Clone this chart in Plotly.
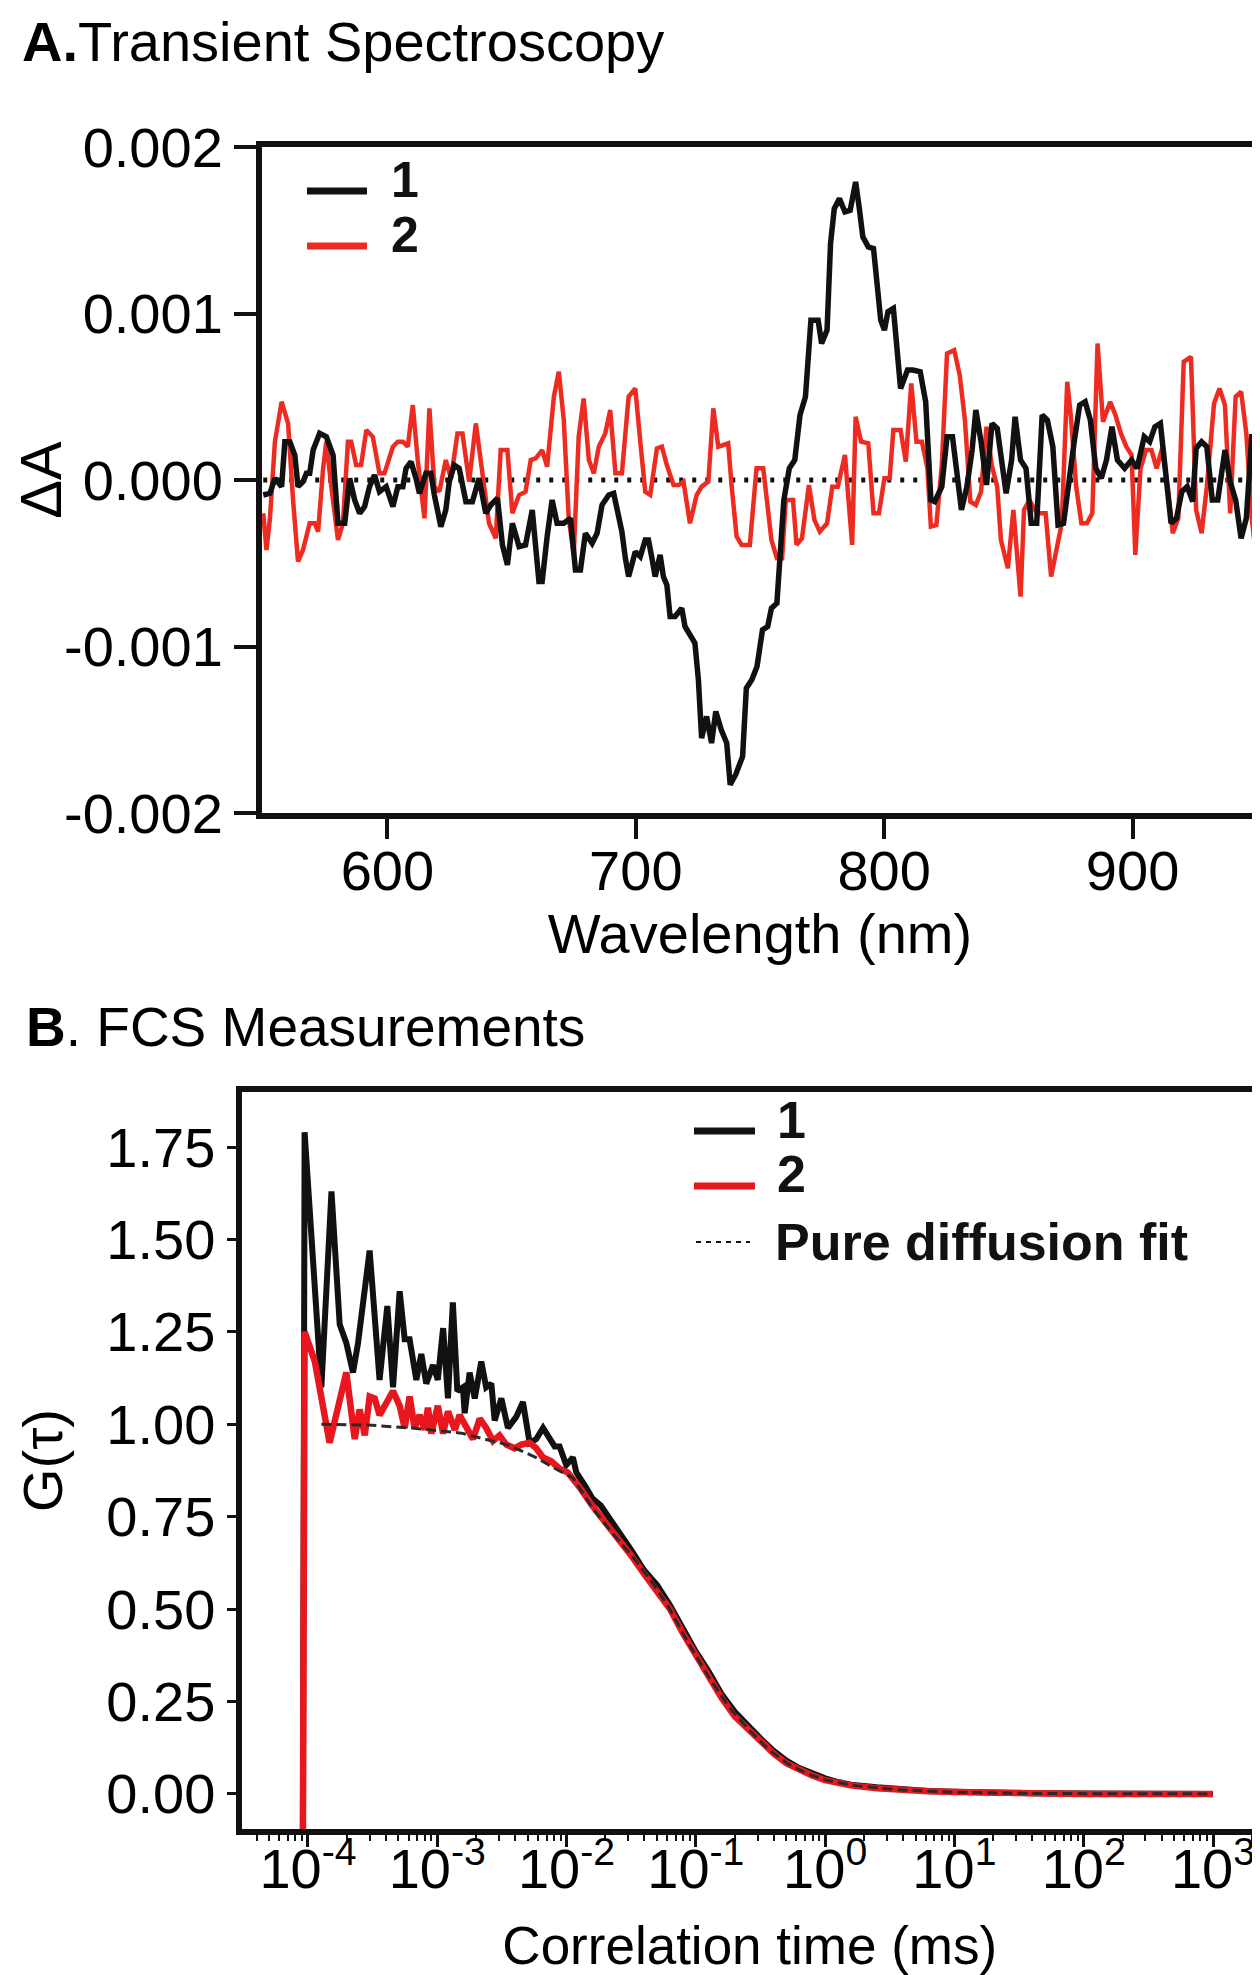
import plotly.graph_objects as go

# ---------------- Panel A: transient spectroscopy ----------------
wl_1 = [550.0, 552.7, 554.7, 557.4, 558.7, 560.7, 562.7, 564.0, 566.0, 567.4,
        568.7, 570.1, 572.7, 575.4, 578.1, 580.1, 582.8, 584.8, 586.8, 588.8,
        590.8, 592.8, 594.8, 596.8, 599.5, 602.2, 604.2, 606.2, 607.5, 609.5,
        611.5, 612.9, 615.5, 617.5, 618.9, 621.5, 623.5, 624.9, 626.9, 628.9,
        631.6, 634.2, 636.9, 638.3, 639.6, 641.6, 644.3, 646.3, 648.3, 650.3,
        653.0, 655.6, 658.3, 661.0, 662.3, 664.3, 666.3, 668.3, 671.0, 673.7,
        675.7, 677.7, 679.7, 682.4, 684.4, 686.4, 689.1, 691.1, 693.1, 694.4,
        695.8, 697.1, 699.8, 701.8, 703.8, 705.1, 706.5, 707.8, 709.8, 711.1,
        712.5, 713.8, 715.8, 718.5, 719.8, 721.8, 723.8, 725.2, 726.5, 728.5,
        730.5, 732.2, 734.4, 736.6, 738.0, 740.2, 743.0, 744.5, 746.7, 748.8,
        751.0, 753.1, 754.6, 756.8, 758.2, 759.6, 761.8, 764.0, 766.1, 768.3,
        770.5, 773.4, 774.8, 777.0, 778.4, 779.9, 782.0, 784.2, 786.3, 788.5,
        790.0, 791.4, 793.6, 795.7, 797.2, 798.6, 800.1, 801.5, 803.7, 805.1,
        806.6, 809.4, 811.6, 814.5, 816.7, 818.8, 820.3, 823.2, 825.3, 827.5,
        829.6, 831.1, 833.3, 835.4, 836.9, 839.0, 841.2, 843.4, 845.5, 847.7,
        849.1, 851.3, 852.7, 854.9, 857.1, 859.2, 861.4, 863.6, 865.7, 867.9,
        870.0, 872.2, 874.4, 876.5, 878.7, 880.9, 883.0, 885.2, 887.4, 889.5,
        891.7, 893.9, 896.8, 899.6, 901.8, 904.7, 906.9, 909.0, 911.2, 913.3,
        915.5, 917.7, 919.8, 922.0, 924.2, 925.6, 927.8, 929.9, 932.1, 934.3,
        937.2, 939.3, 941.5, 943.7, 945.8, 948.0, 949.4, 950.0]
dA_1 = [-0.09e-3, -0.08e-3, 0.01e-3, -0.04e-3, 0.23e-3, 0.23e-3, 0.15e-3, -0.04e-3, -0.01e-3, 0.04e-3,
        0.04e-3, 0.18e-3, 0.28e-3, 0.26e-3, 0.15e-3, -0.26e-3, -0.26e-3, 0.01e-3, -0.12e-3, -0.20e-3,
        -0.16e-3, -0.04e-3, 0.03e-3, -0.07e-3, -0.04e-3, -0.16e-3, -0.04e-3, -0.04e-3, 0.07e-3, 0.11e-3,
        0.01e-3, -0.08e-3, 0.04e-3, 0.04e-3, -0.09e-3, -0.28e-3, -0.18e-3, -0.01e-3, 0.09e-3, 0.07e-3,
        -0.13e-3, -0.13e-3, 0.01e-3, -0.09e-3, -0.20e-3, -0.15e-3, -0.11e-3, -0.39e-3, -0.51e-3, -0.26e-3,
        -0.40e-3, -0.39e-3, -0.18e-3, -0.61e-3, -0.61e-3, -0.34e-3, -0.12e-3, -0.26e-3, -0.26e-3, -0.23e-3,
        -0.54e-3, -0.54e-3, -0.32e-3, -0.38e-3, -0.32e-3, -0.15e-3, -0.09e-3, -0.08e-3, -0.24e-3, -0.31e-3,
        -0.47e-3, -0.58e-3, -0.43e-3, -0.46e-3, -0.36e-3, -0.36e-3, -0.47e-3, -0.58e-3, -0.45e-3, -0.58e-3,
        -0.63e-3, -0.82e-3, -0.82e-3, -0.77e-3, -0.88e-3, -0.93e-3, -0.98e-3, -1.20e-3, -1.55e-3, -1.42e-3,
        -1.58e-3, -1.39e-3, -1.50e-3, -1.58e-3, -1.83e-3, -1.77e-3, -1.66e-3, -1.25e-3, -1.20e-3, -1.12e-3,
        -0.90e-3, -0.88e-3, -0.77e-3, -0.74e-3, -0.45e-3, -0.12e-3, 0.07e-3, 0.12e-3, 0.39e-3, 0.50e-3,
        0.96e-3, 0.96e-3, 0.82e-3, 0.90e-3, 1.42e-3, 1.63e-3, 1.69e-3, 1.61e-3, 1.62e-3, 1.79e-3,
        1.63e-3, 1.46e-3, 1.40e-3, 1.39e-3, 1.17e-3, 0.96e-3, 0.90e-3, 1.01e-3, 1.03e-3, 0.77e-3,
        0.55e-3, 0.66e-3, 0.66e-3, 0.65e-3, 0.47e-3, -0.12e-3, -0.13e-3, -0.04e-3, 0.26e-3, 0.26e-3,
        0.01e-3, -0.18e-3, -0.04e-3, 0.18e-3, 0.42e-3, 0.23e-3, -0.03e-3, 0.34e-3, 0.31e-3, 0.07e-3,
        -0.08e-3, 0.12e-3, 0.38e-3, 0.12e-3, 0.07e-3, -0.26e-3, -0.26e-3, 0.39e-3, 0.36e-3, 0.20e-3,
        -0.27e-3, -0.26e-3, 0.01e-3, 0.23e-3, 0.45e-3, 0.47e-3, 0.36e-3, 0.07e-3, 0.01e-3, 0.12e-3,
        0.32e-3, 0.12e-3, 0.07e-3, 0.12e-3, 0.07e-3, 0.26e-3, 0.23e-3, 0.32e-3, 0.34e-3, 0.04e-3,
        -0.26e-3, -0.23e-3, -0.07e-3, -0.04e-3, -0.13e-3, 0.19e-3, 0.23e-3, 0.20e-3, -0.12e-3, -0.12e-3,
        0.18e-3, -0.01e-3, -0.12e-3, -0.35e-3, -0.23e-3, 0.26e-3, 0.26e-3, 0.00e-3]

wl_2 = [550.0, 551.3, 552.7, 554.7, 557.4, 560.0, 562.0, 564.0, 566.0, 568.7,
        570.7, 572.1, 574.1, 575.4, 577.4, 580.1, 582.1, 584.1, 585.4, 587.4,
        589.4, 591.5, 594.1, 596.8, 598.8, 602.2, 604.2, 606.2, 608.2, 610.2,
        612.2, 614.9, 616.9, 618.9, 620.9, 623.5, 625.6, 628.2, 630.2, 632.9,
        635.6, 638.3, 640.9, 643.6, 645.6, 648.3, 650.3, 653.0, 655.6, 657.7,
        659.7, 662.3, 664.3, 667.0, 669.0, 671.0, 673.0, 675.0, 677.0, 679.0,
        681.1, 683.1, 685.1, 687.7, 689.7, 691.8, 694.4, 697.1, 699.8, 701.8,
        703.8, 705.8, 708.5, 710.5, 712.5, 715.2, 717.2, 719.2, 721.8, 724.5,
        726.5, 729.2, 731.2, 733.2, 737.2, 738.6, 740.6, 742.6, 745.9, 748.6,
        751.3, 754.6, 756.8, 758.9, 760.4, 763.3, 764.7, 766.9, 769.7, 771.9,
        774.1, 777.0, 779.1, 781.3, 784.2, 787.1, 788.5, 790.7, 793.6, 795.7,
        797.9, 800.1, 802.2, 803.7, 806.6, 808.7, 810.9, 813.0, 815.2, 817.4,
        818.8, 821.0, 823.2, 825.3, 828.2, 830.4, 832.5, 834.7, 836.9, 839.0,
        841.2, 843.3, 845.5, 847.0, 849.8, 852.0, 854.9, 856.3, 858.5, 861.4,
        865.0, 867.2, 869.3, 871.5, 873.7, 875.1, 877.3, 879.4, 881.6, 883.8,
        885.9, 888.1, 891.0, 893.1, 895.3, 897.5, 899.6, 901.1, 903.2, 905.4,
        907.6, 909.7, 911.9, 914.1, 916.2, 918.4, 920.6, 923.5, 925.6, 927.8,
        929.9, 932.8, 935.0, 937.2, 939.3, 941.5, 943.7, 945.8, 948.0, 950.0]
dA_2 = [-0.20e-3, -0.42e-3, -0.23e-3, 0.23e-3, 0.47e-3, 0.34e-3, -0.12e-3, -0.49e-3, -0.42e-3, -0.26e-3,
        -0.26e-3, -0.31e-3, 0.07e-3, 0.23e-3, -0.04e-3, -0.36e-3, -0.26e-3, 0.23e-3, 0.23e-3, 0.09e-3,
        0.09e-3, 0.30e-3, 0.26e-3, 0.04e-3, 0.04e-3, 0.20e-3, 0.23e-3, 0.23e-3, 0.20e-3, 0.45e-3,
        0.12e-3, -0.23e-3, 0.43e-3, -0.04e-3, -0.07e-3, 0.12e-3, 0.01e-3, 0.28e-3, 0.28e-3, -0.01e-3,
        0.34e-3, 0.04e-3, -0.26e-3, -0.35e-3, 0.18e-3, 0.18e-3, -0.20e-3, -0.09e-3, -0.07e-3, 0.12e-3,
        0.13e-3, 0.18e-3, 0.08e-3, 0.50e-3, 0.65e-3, 0.36e-3, -0.23e-3, -0.45e-3, 0.26e-3, 0.49e-3,
        0.12e-3, 0.04e-3, 0.20e-3, 0.28e-3, 0.42e-3, 0.04e-3, 0.04e-3, 0.50e-3, 0.55e-3, 0.23e-3,
        -0.07e-3, -0.09e-3, 0.19e-3, 0.20e-3, 0.09e-3, -0.03e-3, -0.03e-3, -0.01e-3, -0.26e-3, -0.09e-3,
        -0.04e-3, -0.01e-3, 0.43e-3, 0.20e-3, 0.22e-3, -0.04e-3, -0.34e-3, -0.39e-3, -0.39e-3, 0.07e-3,
        0.07e-3, -0.36e-3, -0.47e-3, -0.47e-3, -0.12e-3, -0.12e-3, -0.39e-3, -0.35e-3, -0.03e-3, -0.24e-3,
        -0.31e-3, -0.26e-3, -0.04e-3, -0.04e-3, 0.15e-3, -0.39e-3, 0.38e-3, 0.23e-3, 0.22e-3, -0.20e-3,
        -0.20e-3, 0.01e-3, 0.01e-3, 0.30e-3, 0.30e-3, 0.11e-3, 0.58e-3, 0.23e-3, 0.23e-3, 0.07e-3,
        -0.28e-3, -0.27e-3, 0.09e-3, 0.76e-3, 0.78e-3, 0.63e-3, 0.36e-3, -0.13e-3, -0.15e-3, -0.07e-3,
        0.32e-3, 0.09e-3, -0.04e-3, -0.36e-3, -0.53e-3, -0.18e-3, -0.70e-3, -0.18e-3, -0.12e-3, -0.20e-3,
        -0.20e-3, -0.58e-3, -0.42e-3, -0.26e-3, 0.59e-3, 0.39e-3, -0.04e-3, -0.26e-3, -0.26e-3, -0.20e-3,
        0.82e-3, 0.35e-3, 0.47e-3, 0.39e-3, 0.28e-3, 0.20e-3, 0.15e-3, -0.45e-3, 0.07e-3, 0.18e-3,
        0.18e-3, 0.07e-3, 0.19e-3, -0.04e-3, -0.32e-3, -0.23e-3, 0.71e-3, 0.74e-3, -0.18e-3, -0.32e-3,
        -0.04e-3, 0.46e-3, 0.55e-3, 0.45e-3, -0.20e-3, 0.50e-3, 0.53e-3, 0.28e-3, -0.23e-3, -0.50e-3]

zero_wl = [550, 950]
zero_dA = [0.0, 0.0]

a_xticks = [600, 700, 800, 900]
a_yticks = [-0.002, -0.001, 0.0, 0.001, 0.002]
a_ytext = ["-0.002", "-0.001", "0.000", "0.001", "0.002"]

# ---------------- Panel B: FCS ----------------
tau_1 = [9.14e-5, 9.42e-5, 1.27e-4, 1.52e-4, 1.76e-4, 1.98e-4, 2.23e-4, 2.44e-4, 3.00e-4, 3.58e-4,
         4.11e-4, 4.55e-4, 5.12e-4, 5.60e-4, 6.11e-4, 6.89e-4, 7.53e-4, 8.22e-4, 9.27e-4, 1.01e-3,
         1.11e-3, 1.21e-3, 1.32e-3, 1.43e-3, 1.58e-3, 1.63e-3, 1.78e-3, 1.95e-3, 2.19e-3, 2.39e-3,
         2.62e-3, 2.78e-3, 3.13e-3, 3.52e-3, 4.08e-3, 4.60e-3, 5.18e-3, 5.83e-3, 6.58e-3, 7.18e-3,
         8.09e-3, 8.83e-3, 9.95e-3, 1.12e-2, 1.19e-2, 1.41e-2, 1.58e-2, 1.84e-2, 2.12e-2, 2.51e-2,
         3.16e-2, 3.98e-2, 5.01e-2, 6.31e-2, 7.94e-2, 0.100, 0.126, 0.158, 0.200, 0.251,
         0.316, 0.398, 0.501, 0.631, 0.794, 1.00, 1.26, 1.58, 2.51, 3.98,
         6.31, 10.0, 20.0, 39.8, 100.0, 316.0, 1000.0]
G_1 = [-0.10, 1.79, 1.10, 1.63, 1.27, 1.22, 1.14, 1.22, 1.47, 1.12,
       1.32, 1.10, 1.36, 1.23, 1.23, 1.12, 1.19, 1.11, 1.16, 1.12,
       1.26, 1.07, 1.33, 1.09, 1.10, 1.03, 1.14, 1.07, 1.17, 1.10,
       1.11, 1.01, 1.07, 0.99, 1.02, 1.06, 0.95, 0.96, 0.99, 0.97,
       0.94, 0.94, 0.89, 0.91, 0.87, 0.83, 0.80, 0.78, 0.75, 0.71,
       0.66, 0.605, 0.565, 0.51, 0.445, 0.385, 0.33, 0.27, 0.222, 0.185,
       0.15, 0.117, 0.09, 0.07, 0.055, 0.042, 0.032, 0.025, 0.018, 0.012,
       0.008, 0.006, 0.003, 0.002, 0.001, 0.0005, 0.0]

tau_2 = [9.14e-5, 9.42e-5, 1.13e-4, 1.47e-4, 1.98e-4, 2.30e-4, 2.51e-4, 2.75e-4, 3.00e-4, 3.28e-4,
         3.58e-4, 4.04e-4, 4.55e-4, 5.12e-4, 5.60e-4, 6.11e-4, 6.68e-4, 7.31e-4, 8.00e-4, 8.47e-4,
         9.00e-4, 1.01e-3, 1.11e-3, 1.21e-3, 1.37e-3, 1.49e-3, 1.68e-3, 1.89e-3, 2.13e-3, 2.39e-3,
         2.70e-3, 3.03e-3, 3.42e-3, 3.96e-3, 4.47e-3, 5.18e-3, 5.83e-3, 6.58e-3, 7.62e-3, 8.83e-3,
         1.02e-2, 1.26e-2, 1.58e-2, 2.00e-2, 2.51e-2, 3.16e-2, 3.98e-2, 5.01e-2, 6.31e-2, 7.94e-2,
         0.100, 0.126, 0.158, 0.200, 0.251, 0.316, 0.398, 0.501, 0.631, 0.794,
         1.00, 1.26, 1.58, 2.51, 3.98, 6.31, 10.0, 20.0, 39.8, 100.0,
         316.0, 1000.0]
G_2 = [-0.10, 1.25, 1.17, 0.95, 1.14, 0.96, 1.04, 0.97, 1.075, 1.07,
       1.025, 1.055, 1.09, 1.05, 0.99, 1.075, 0.99, 1.025, 0.985, 1.045,
       0.975, 1.05, 0.975, 1.035, 0.985, 1.025, 0.99, 0.96, 1.015, 0.99,
       0.955, 0.97, 0.945, 0.935, 0.945, 0.95, 0.935, 0.91, 0.90, 0.88,
       0.87, 0.83, 0.78, 0.735, 0.69, 0.645, 0.595, 0.55, 0.50, 0.435,
       0.375, 0.32, 0.26, 0.21, 0.175, 0.14, 0.11, 0.083, 0.065, 0.05,
       0.037, 0.029, 0.023, 0.015, 0.01, 0.007, 0.005, 0.003, 0.001, 0.0,
       0.0, 0.0]

tau_fit = [1.27e-4, 2.91e-4, 6.68e-4, 1.54e-3, 3.52e-3, 5.66e-3, 8.09e-3, 1.12e-2, 1.61e-2, 2.36e-2,
           3.37e-2, 4.80e-2, 6.08e-2, 8.69e-2, 0.124, 0.177, 0.253, 0.361, 0.515, 0.736,
           1.05, 1.69, 3.44, 10.0, 37.1, 100.0, 1000.0]
G_fit = [1.000, 0.998, 0.989, 0.976, 0.944, 0.912, 0.881, 0.855, 0.770, 0.698,
         0.635, 0.563, 0.509, 0.410, 0.320, 0.239, 0.176, 0.122, 0.081, 0.054,
         0.036, 0.0225, 0.0117, 0.0045, 0.001, 0.0003, 0.0]

b_xticks = [1e-4, 1e-3, 1e-2, 1e-1, 1e0, 1e1, 1e2, 1e3]
b_xtext = ["10<sup>-4</sup>", "10<sup>-3</sup>", "10<sup>-2</sup>", "10<sup>-1</sup>",
           "10<sup>0</sup>", "10<sup>1</sup>", "10<sup>2</sup>", "10<sup>3</sup>"]
b_yticks = [0.0, 0.25, 0.5, 0.75, 1.0, 1.25, 1.5, 1.75]
b_ytext = ["0.00", "0.25", "0.50", "0.75", "1.00", "1.25", "1.50", "1.75"]

BLACK = "#111111"
RED_A = "#ee2b20"
RED_B = "#e8161d"
FONT = "Liberation Sans, Arial, Helvetica, sans-serif"
W, H = 1260, 1975

fig = go.Figure()
fig.add_trace(go.Scatter(x=zero_wl, y=zero_dA, mode="lines", xaxis="x", yaxis="y",
                         line=dict(color=BLACK, width=5, dash="4px,9px"), showlegend=False))
fig.add_trace(go.Scatter(x=wl_2, y=dA_2, mode="lines", name="2", xaxis="x", yaxis="y",
                         line=dict(color=RED_A, width=4.5), showlegend=False))
fig.add_trace(go.Scatter(x=wl_1, y=dA_1, mode="lines", name="1", xaxis="x", yaxis="y",
                         line=dict(color=BLACK, width=5.5), showlegend=False))

fig.add_trace(go.Scatter(x=tau_1, y=G_1, mode="lines", name="1", xaxis="x2", yaxis="y2",
                         line=dict(color=BLACK, width=6), showlegend=False))
fig.add_trace(go.Scatter(x=tau_2, y=G_2, mode="lines", name="2", xaxis="x2", yaxis="y2",
                         line=dict(color=RED_B, width=6.5), showlegend=False))
fig.add_trace(go.Scatter(x=tau_fit, y=G_fit, mode="lines", name="Pure diffusion fit",
                         xaxis="x2", yaxis="y2",
                         line=dict(color="#2a2a2a", width=3, dash="10px,5px"), showlegend=False))

tickfont = dict(family=FONT, size=56, color="black")
axcommon = dict(showline=True, linecolor=BLACK, mirror=True, showgrid=False, zeroline=False,
                ticks="outside", tickcolor=BLACK, automargin=False, tickfont=tickfont)

fig.update_layout(
    width=W, height=H,
    margin=dict(l=0, r=0, t=0, b=0),
    paper_bgcolor="white", plot_bgcolor="white",
    font=dict(family=FONT, color="black"),
    xaxis=dict(domain=[254 / W, 1250 / W], range=[549.5, 950.5], anchor="y",
               tickvals=a_xticks, ticklen=20, tickwidth=4, linewidth=6, ticklabelstandoff=-16,
               title=dict(text="Wavelength (nm)", font=dict(family=FONT, size=56), standoff=2),
               **axcommon),
    yaxis=dict(domain=[1 - 805 / H, 1 - 139 / H], range=[-0.002, 0.002], anchor="x",
               tickvals=a_yticks, ticktext=a_ytext, ticklen=22, tickwidth=4, linewidth=6,
               title=dict(text="ΔA", font=dict(family=FONT, size=58), standoff=8),
               **axcommon),
    xaxis2=dict(domain=[233.5 / W, 1250 / W], type="log", range=[-4.514, 3.348], anchor="y2",
                tickvals=b_xticks, ticktext=b_xtext, ticklen=12, tickwidth=3, linewidth=6,
                ticklabelstandoff=-26,
                minor=dict(ticks="outside", ticklen=6, tickwidth=2, tickcolor=BLACK, dtick="D1"),
                title=dict(text="Correlation time (ms)", font=dict(family=FONT, size=53), standoff=30),
                **axcommon),
    yaxis2=dict(domain=[1 - 1821 / H, 1 - 1084 / H], range=[-0.095, 1.899], anchor="x2",
                tickvals=b_yticks, ticktext=b_ytext, ticklen=9, tickwidth=2.5, linewidth=6,
                title=dict(text="G(τ)", font=dict(family=FONT, size=56), standoff=28),
                **axcommon),
)

# Panel titles
fig.add_annotation(text="<b>A.</b>Transient Spectroscopy", xref="paper", yref="paper",
                   x=12 / W, y=1.0, xanchor="left", yanchor="top", showarrow=False,
                   font=dict(family=FONT, size=56, color="black"))
fig.add_annotation(text="<b>B</b>. FCS Measurements", xref="paper", yref="paper",
                   x=16 / W, y=1 - 1019 / H, xanchor="left", yanchor="middle", showarrow=False,
                   font=dict(family=FONT, size=55, color="black"))

# Legends (drawn as keys + bold labels, as in the original figure)
def legend_key(x0, x1, y, color, width, dash="solid"):
    fig.add_shape(type="line", xref="paper", yref="paper", x0=x0 / W, x1=x1 / W,
                  y0=1 - y / H, y1=1 - y / H, line=dict(color=color, width=width, dash=dash))

def legend_text(x, y, text, size):
    fig.add_annotation(text="<b>" + text + "</b>", xref="paper", yref="paper", x=x / W, y=1 - y / H,
                       xanchor="left", yanchor="middle", showarrow=False,
                       font=dict(family=FONT, size=size, color=BLACK))

legend_key(299, 359, 183, BLACK, 7)
legend_text(381, 172, "1", 50)
legend_key(299, 359, 238, RED_A, 7)
legend_text(381, 227, "2", 50)

legend_key(686, 747, 1123, BLACK, 7)
legend_text(767, 1112, "1", 52)
legend_key(686, 747, 1178, RED_B, 7)
legend_text(767, 1166, "2", 52)
legend_key(688, 742, 1234, BLACK, 2, dash="5px,5px")
legend_text(765, 1234, "Pure diffusion fit", 52)

fig.write_html("out.html")
